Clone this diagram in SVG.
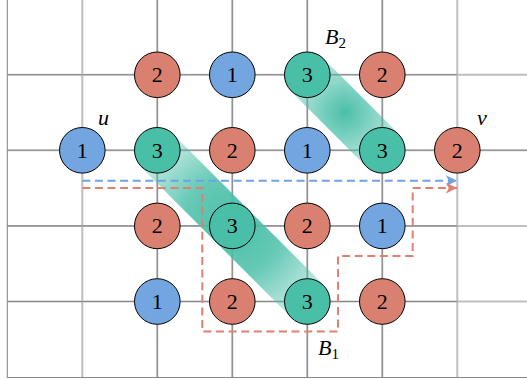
<svg xmlns="http://www.w3.org/2000/svg" width="527" height="380" viewBox="0 0 527 380">
<style>
.lg{stroke:#808080;stroke-opacity:.5;stroke-width:2;fill:none}
.dk{stroke:#8a8a8a;stroke-width:1.1;fill:none}
.n circle{stroke:#000;stroke-width:1}
.r{fill:#D98070}.b{fill:#73A5E0}.g{fill:#4ABFA8}
.n text{font-family:"Liberation Serif","DejaVu Serif",serif;font-size:22px;text-anchor:middle;fill:#000}
.lab{font-family:"Liberation Serif","DejaVu Serif",serif;font-style:italic;font-size:22px;fill:#000}
.sub{font-style:normal;font-size:15px}
.db{stroke:#6FA3E6;stroke-width:2;fill:none;stroke-dasharray:8 4.6}
.dr{stroke:#E08070;stroke-width:2;fill:none;stroke-dasharray:8 4.6}
</style>
<defs>
<radialGradient id="gB1" gradientUnits="userSpaceOnUse" cx="232.3" cy="226" r="108">
<stop offset="0" stop-color="#4ABFA8" stop-opacity="1"/>
<stop offset="0.45" stop-color="#4ABFA8" stop-opacity="0.85"/>
<stop offset="1" stop-color="#4ABFA8" stop-opacity="0.28"/>
</radialGradient>
<radialGradient id="gB2" gradientUnits="userSpaceOnUse" cx="344.8" cy="112.5" r="56">
<stop offset="0" stop-color="#4ABFA8" stop-opacity="1"/>
<stop offset="1" stop-color="#4ABFA8" stop-opacity="0.35"/>
</radialGradient>
<marker id="ab" viewBox="0 0 10 10" refX="10" refY="5" markerWidth="5.5" markerHeight="5.5" orient="auto" markerUnits="strokeWidth">
<path d="M0,0 L10,5 L0,10 L2.5,5 z" fill="#6FA3E6"/>
</marker>
<marker id="ar" viewBox="0 0 10 10" refX="10" refY="5" markerWidth="5.5" markerHeight="5.5" orient="auto" markerUnits="strokeWidth">
<path d="M0,0 L10,5 L0,10 L2.5,5 z" fill="#E08070"/>
</marker>
</defs>
<g id="grid">
<path class="lg" d="M82.3,0V377M457.3,0V377M7.3,74.8H527M7.3,150.3H527M7.3,225.9H527M7.3,301.5H527M157.3,0V377M232.3,0V377M307.3,0V377M382.3,0V377"/>
<path class="dk" d="M7.3,0V377.5H527M157.3,0V377M232.3,0V377M307.3,0V377M382.3,0V377M7.3,74.8H457.3M7.3,150.3H527M7.3,225.9H457.3M7.3,301.5H457.3"/>
</g>
<g id="B1-band">
<rect x="126" y="203" width="212.8" height="46" transform="rotate(45 232.3 226)" fill="url(#gB1)"/>
</g>
<g id="B2-band">
<rect x="291.6" y="89.5" width="106.4" height="46" transform="rotate(45 344.8 112.5)" fill="url(#gB2)"/>
</g>
<g id="connectors">
<path class="db" d="M82.3,180.7H457" marker-end="url(#ab)"/>
<path class="dr" d="M82.3,188H202.3V331.5H338V256H412.7V188H457" marker-end="url(#ar)"/>
</g>
<g id="n-r1c2" class="n"><circle class="r" cx="157.3" cy="74.8" r="22.8"/><text x="157.3" y="82.3">2</text></g>
<g id="n-r1c3" class="n"><circle class="b" cx="232.3" cy="74.8" r="22.8"/><text x="232.3" y="82.3">1</text></g>
<g id="n-r1c4" class="n"><circle class="g" cx="307.3" cy="74.8" r="22.8"/><text x="307.3" y="82.3">3</text></g>
<g id="n-r1c5" class="n"><circle class="r" cx="382.3" cy="74.8" r="22.8"/><text x="382.3" y="82.3">2</text></g>
<g id="u" class="n"><circle class="b" cx="82.3" cy="150.3" r="22.8"/><text x="82.3" y="157.8">1</text></g>
<g id="n-r2c2" class="n"><circle class="g" cx="157.3" cy="150.3" r="22.8"/><text x="157.3" y="157.8">3</text></g>
<g id="n-r2c3" class="n"><circle class="r" cx="232.3" cy="150.3" r="22.8"/><text x="232.3" y="157.8">2</text></g>
<g id="n-r2c4" class="n"><circle class="b" cx="307.3" cy="150.3" r="22.8"/><text x="307.3" y="157.8">1</text></g>
<g id="n-r2c5" class="n"><circle class="g" cx="382.3" cy="150.3" r="22.8"/><text x="382.3" y="157.8">3</text></g>
<g id="v" class="n"><circle class="r" cx="457.3" cy="150.3" r="22.8"/><text x="457.3" y="157.8">2</text></g>
<g id="n-r3c2" class="n"><circle class="r" cx="157.3" cy="225.9" r="22.8"/><text x="157.3" y="233.4">2</text></g>
<g id="n-r3c3" class="n"><circle class="g" cx="232.3" cy="225.9" r="22.8"/><text x="232.3" y="233.4">3</text></g>
<g id="n-r3c4" class="n"><circle class="r" cx="307.3" cy="225.9" r="22.8"/><text x="307.3" y="233.4">2</text></g>
<g id="n-r3c5" class="n"><circle class="b" cx="382.3" cy="225.9" r="22.8"/><text x="382.3" y="233.4">1</text></g>
<g id="n-r4c2" class="n"><circle class="b" cx="157.3" cy="301.5" r="22.8"/><text x="157.3" y="309">1</text></g>
<g id="n-r4c3" class="n"><circle class="r" cx="232.3" cy="301.5" r="22.8"/><text x="232.3" y="309">2</text></g>
<g id="n-r4c4" class="n"><circle class="g" cx="307.3" cy="301.5" r="22.8"/><text x="307.3" y="309">3</text></g>
<g id="n-r4c5" class="n"><circle class="r" cx="382.3" cy="301.5" r="22.8"/><text x="382.3" y="309">2</text></g>
<g id="labels">
<text class="lab" x="98" y="125">u</text>
<text class="lab" x="477" y="125">v</text>
<text class="lab" x="325" y="44">B<tspan class="sub" dy="4">2</tspan></text>
<text class="lab" x="318" y="355">B<tspan class="sub" dy="4">1</tspan></text>
</g>
</svg>
